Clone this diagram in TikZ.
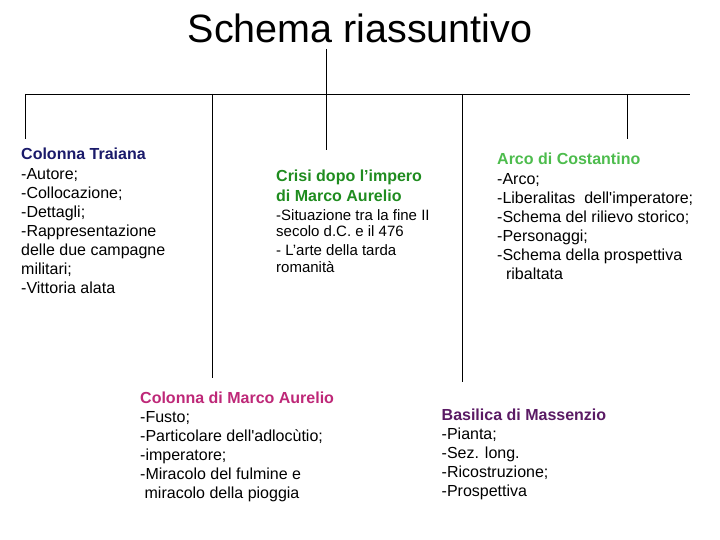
\documentclass[tikz,border=0pt]{standalone}
\usepackage{fontspec}
\setmainfont{Liberation Sans}
\usetikzlibrary{positioning}
\definecolor{trajblue}{RGB}{26,26,106}
\definecolor{crisigreen}{RGB}{31,140,31}
\definecolor{arcogreen}{RGB}{77,188,77}
\definecolor{aurmagenta}{RGB}{190,40,120}
\definecolor{baspurple}{RGB}{90,26,100}

\begin{document}
\begin{tikzpicture}[x=1bp, y=-1bp,
    head/.style={anchor=base west, inner sep=0pt, font=\fontsize{16bp}{19.5bp}\selectfont\bfseries},
    items/.style={anchor=north west, inner sep=0pt, align=left, font=\fontsize{16bp}{19bp}\selectfont},
    conn/.style={line width=0.9bp}]
            \useasboundingbox (0,0) rectangle (720,540);
            % title
            \node[inner sep=0pt, anchor=base, font=\fontsize{39.5bp}{40bp}\selectfont] (title) at (360,42.5) {Schema riassuntivo};
            % tree lines
            \coordinate (tTop) at (326,49);
            \coordinate (tEnd) at (326,150);
            \coordinate (barL) at (25,94);
            \coordinate (barR) at (690,94);
            \draw[conn] (tTop) -- (tEnd);
            \draw[conn] (barL) -- (barR);
            \foreach \name/\xx/\yy in {dTraj/25/139, dAur/212/378, dBas/462/382, dArco/627/139}{
                \coordinate (\name) at (\xx,\yy);
                \draw[conn] (\name |- barL) -- (\name);
            }
            % Colonna Traiana
            \node[head, text=trajblue] (trajH) at (21,159.5) {Colonna Traiana};
            \node[items] (trajL) at (21,168.5) {-Autore;\\-Collocazione;\\-Dettagli;\\-Rappresentazione\\delle due campagne\\militari;\\-Vittoria alata};
            % Crisi
            \node[head, anchor=north west, align=left, text=crisigreen] (crisiH) at (276,170) {Crisi dopo l’impero\\di Marco Aurelio};
            \node[items, font=\fontsize{15bp}{16.5bp}\selectfont] (crisiL) at (276,209) {-Situazione tra la fine II\\secolo d.C. e il 476\\[2.5bp]- L’arte della tarda\\romanità};
            % Arco di Costantino
            \node[head, text=arcogreen] (arcoH) at (497,164.5) {Arco di Costantino};
            \node[items] (arcoL) at (497,173.5) {-Arco;\\-Liberalitas~ dell\textquotesingle imperatore;\\-Schema del rilievo storico;\\-Personaggi;\\-Schema della prospettiva\\\ \ ribaltata};
            % Colonna di Marco Aurelio
            \node[head, text=aurmagenta] (aurH) at (140,403) {Colonna di Marco Aurelio};
            \node[items] (aurL) at (140,411.5) {-Fusto;\\-Particolare dell\textquotesingle adlocùtio;\\-imperatore;\\-Miracolo del fulmine e\\\ miracolo della pioggia};
            % Basilica di Massenzio
            \node[head, text=baspurple] (basH) at (441.5,420.3) {Basilica di Massenzio};
            \node[items] (basL) at (441.5,427.5) {-Pianta;\\-Sez. long.\\-Ricostruzione;\\-Prospettiva};
        \end{tikzpicture}
\end{document}
